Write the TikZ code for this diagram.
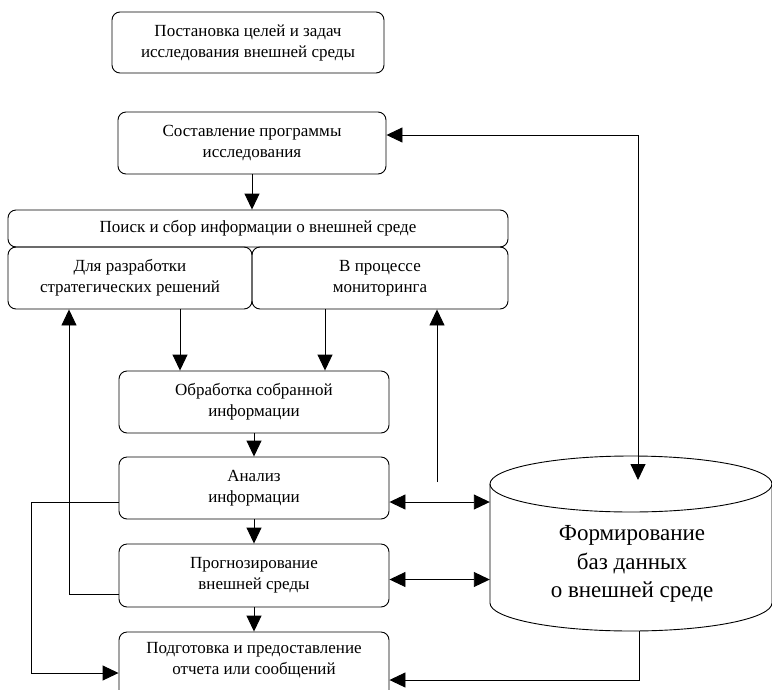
\documentclass[tikz,border=0pt]{standalone}
\usepackage{fontspec}
\setmainfont{Liberation Serif}
\usetikzlibrary{arrows.meta}
\begin{document}
\begin{tikzpicture}[x=1pt,y=-1pt,
  box/.style={draw, rounded corners=8pt, line width=0.9pt, inner sep=0pt, align=center,
    font=\fontsize{17}{21}\selectfont},
  txt/.style={inner sep=0pt, align=center, font=\fontsize{17}{21}\selectfont},
  arr/.style={-{Triangle[length=16pt,width=15pt]}, line width=0.9pt},
  darr/.style={{Triangle[length=16pt,width=15pt]}-{Triangle[length=16pt,width=15pt]}, line width=0.9pt}]
\useasboundingbox (0,0) rectangle (772,689);
\node[box, minimum width=272pt, minimum height=61pt] (goal) at (248,42.5) {Постановка целей и задач\\исследования внешней среды};
\node[box, minimum width=268pt, minimum height=62pt] (prog) at (252,143) {Составление программы\\исследования};
\node[box, minimum width=500pt, minimum height=37pt] (search) at (258,228.5) {Поиск и сбор информации о внешней среде};
\node[box, minimum width=244pt, minimum height=62pt] (strat) at (130,278) {Для разработки\\стратегических решений};
\node[box, minimum width=256pt, minimum height=62pt] (mon) at (380,278) {В процессе\\мониторинга};
\node[box, minimum width=270pt, minimum height=62pt] (proc) at (254,402) {Обработка собранной\\информации};
\node[box, minimum width=270pt, minimum height=62pt] (anal) at (254,488) {Анализ\\информации};
\node[box, minimum width=270pt, minimum height=63pt] (fore) at (254,575.5) {Прогнозирование\\внешней среды};
\node[box, minimum width=270pt, minimum height=68pt] (rep) at (254,666) {};
\node[txt] (reptext) at (254,660) {Подготовка и предоставление\\отчета или сообщений};
% database cylinder
\node[minimum width=280pt, minimum height=174pt, inner sep=0pt] (db) at (630,544) {};
\draw[line width=0.9pt] (490,484) -- (490,603) arc[start angle=180, end angle=0, x radius=141, y radius=28] -- (772,484);
\draw[line width=0.9pt] (631,484) ellipse [x radius=141, y radius=28];
\node[align=center, font=\fontsize{23}{28.5}\selectfont] (dbt) at (632,564) {Формирование\\баз данных\\о внешней среде};
% connectors
\coordinate (dbin) at (638,480);
\coordinate (monfeed) at (437,482);
\coordinate (dbout) at (639,631);
\draw[arr] (prog.south) -- (prog.south |- search.north);
\draw[darr] ([yshift=8pt]prog.east) -| (dbin);
\draw[arr] ([xshift=50pt]strat.south) -- ([xshift=50pt]strat.south |- proc.north);
\draw[arr] ([xshift=-55pt]mon.south) -- ([xshift=-55pt]mon.south |- proc.north);
\draw[arr] (proc.south) -- (anal.north);
\draw[arr] (anal.south) -- (fore.north);
\draw[arr] (fore.south) -- (rep.north);
\draw[arr] (monfeed) -- (monfeed |- mon.south);
\draw[darr] ([yshift=-14pt]anal.east) -- ([yshift=-14pt]anal.east -| db.west);
\draw[darr] ([yshift=-4pt]fore.east) -- ([yshift=-4pt]fore.east -| db.west);
\draw[arr] ([yshift=-14pt]anal.west) -- ++(-87,0) |- ([yshift=-7pt]rep.west);
\draw[arr] ([yshift=-18.5pt]fore.west) -| ([xshift=-61pt]strat.south);
\draw[arr] (dbout) |- ([yshift=-14pt]rep.east);
\end{tikzpicture}
\end{document}
